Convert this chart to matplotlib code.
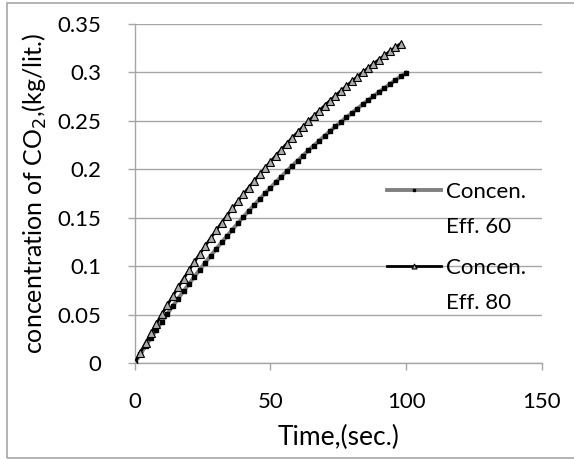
import matplotlib
matplotlib.use("Agg")
import matplotlib.pyplot as plt
from matplotlib.lines import Line2D
from matplotlib.patches import Rectangle

plt.rcParams['font.family'] = ['Lato', 'DejaVu Sans']

# time steps (sec.)
t60 = list(range(0, 101, 2))
t80 = list(range(0, 99, 2))

# concentration of CO2, kg/lit.
c60 = [0.0000, 0.0088, 0.0174, 0.0260, 0.0343, 0.0425, 0.0506, 0.0586, 0.0664, 0.0741,
       0.0816, 0.0891, 0.0964, 0.1036, 0.1106, 0.1176, 0.1244, 0.1311, 0.1377, 0.1442,
       0.1506, 0.1569, 0.1630, 0.1691, 0.1751, 0.1809, 0.1867, 0.1924, 0.1980, 0.2035,
       0.2088, 0.2142, 0.2194, 0.2245, 0.2295, 0.2345, 0.2394, 0.2442, 0.2489, 0.2535,
       0.2581, 0.2625, 0.2670, 0.2713, 0.2755, 0.2797, 0.2838, 0.2879, 0.2919, 0.2958,
       0.2996]
c80 = [0.0000, 0.0105, 0.0207, 0.0308, 0.0406, 0.0503, 0.0597, 0.0690, 0.0781, 0.0870,
       0.0957, 0.1043, 0.1127, 0.1209, 0.1289, 0.1369, 0.1446, 0.1522, 0.1596, 0.1669,
       0.1741, 0.1811, 0.1880, 0.1947, 0.2013, 0.2078, 0.2141, 0.2203, 0.2264, 0.2324,
       0.2382, 0.2440, 0.2496, 0.2551, 0.2605, 0.2658, 0.2710, 0.2761, 0.2811, 0.2860,
       0.2908, 0.2955, 0.3001, 0.3046, 0.3090, 0.3133, 0.3176, 0.3218, 0.3258, 0.3298]

names = ['Concen.', 'Concen.']
effs = ['Eff. 60', 'Eff. 80']

FS = 16

fig = plt.figure(figsize=(5.74, 4.59), dpi=100)
ax = fig.add_axes([0.2347, 0.2092, 0.709, 0.7385])

# outer chart frame
fig.patches.append(Rectangle((7 / 574, 1 / 459), 1.0, 455 / 459, transform=fig.transFigure,
                             fill=False, edgecolor='#a6a6a6', linewidth=1.2, clip_on=False))

l60, = ax.plot(t60, c60, color='#808080', linewidth=2.8, marker='s', markersize=3.2,
               markerfacecolor='black', markeredgecolor='black', zorder=3)
l80, = ax.plot(t80, c80, color='black', linewidth=2.0, marker='^', markersize=6.0,
               markerfacecolor='#ababab', markeredgecolor='black', markeredgewidth=0.8,
               zorder=4)

ax.set_xlim(0, 150)
ax.set_ylim(0, 0.35)
ax.set_xticks([0, 50, 100, 150])
ax.set_yticks([0, 0.05, 0.1, 0.15, 0.2, 0.25, 0.3, 0.35])
ax.set_yticklabels(['0', '0.05', '0.1', '0.15', '0.2', '0.25', '0.3', '0.35'])
ax.grid(True, axis='y', color='#a6a6a6', linewidth=1.0)
ax.set_axisbelow(True)

for s in ['top', 'right']:
    ax.spines[s].set_visible(False)
for s in ['left', 'bottom']:
    ax.spines[s].set_color('#a6a6a6')
    ax.spines[s].set_linewidth(1.0)
ax.tick_params(axis='both', colors='#a6a6a6', labelcolor='black', labelsize=FS,
               length=5, width=1.0)
ax.tick_params(axis='x', pad=16)
ax.tick_params(axis='y', pad=19)

ax.set_xlabel('Time,(sec.)', fontsize=19, labelpad=9)
ax.set_ylabel('concentration of CO$_2$,(kg/lit.)', fontsize=18, labelpad=6)

# legend: handle next to "Concen.", second line below
blank = Line2D([], [], linestyle='none')
kw = dict(loc='upper left', frameon=False, fontsize=FS, handlelength=2.45,
          handletextpad=0.2, labelspacing=0.7, borderpad=0, borderaxespad=0,
          markerscale=0.6)
leg1 = ax.legend([l60, blank], [names[0], effs[0]], bbox_to_anchor=(0.62, 0.535), **kw)
ax.add_artist(leg1)
leg2 = ax.legend([l80, blank], [names[1], effs[1]], bbox_to_anchor=(0.62, 0.31), **kw)

fig.savefig('out.png', dpi=100)
